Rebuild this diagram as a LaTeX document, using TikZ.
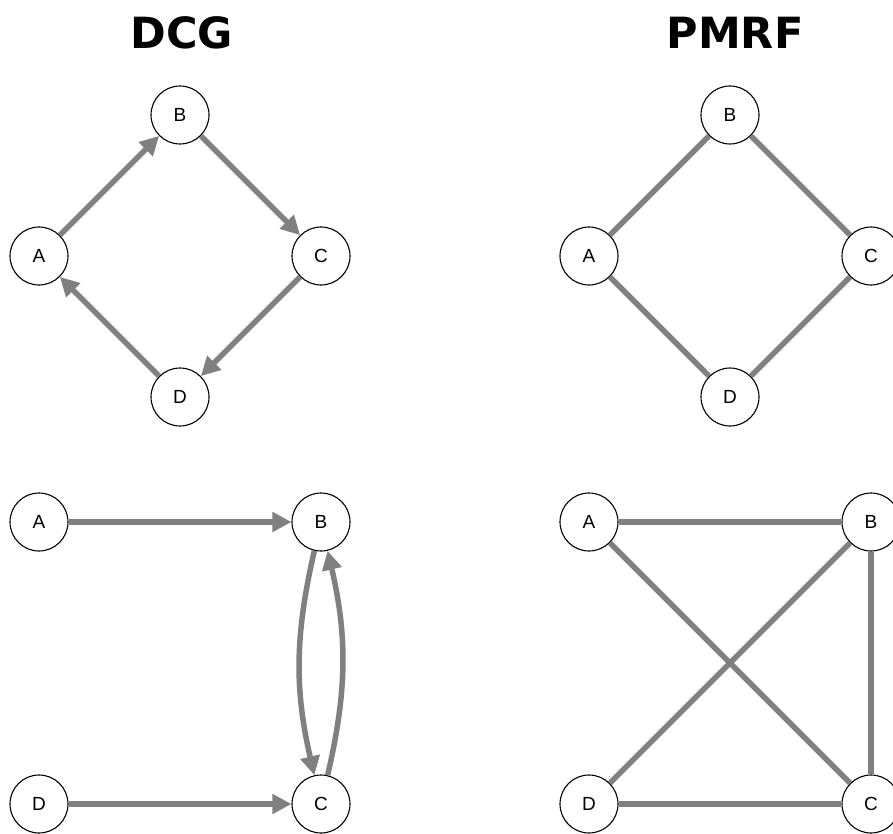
\documentclass[tikz,border=0pt]{standalone}
\usepackage{fontspec}
\setmainfont{Liberation Sans}
\newfontfamily\titlefont{DejaVu Sans}
\usetikzlibrary{arrows.meta}
\definecolor{linkgray}{RGB}{128,128,128}
\tikzset{
  vert/.style={circle, draw=black, line width=1.1pt, fill=white, minimum size=58pt, inner sep=0pt, font=\fontsize{19}{19}\selectfont},
  edge/.style={draw=linkgray, line width=5.5pt},
  arc/.style={edge, -{Triangle[length=19pt,width=19pt]}, color=linkgray},
  heading/.style={font=\titlefont\bfseries\fontsize{43}{43}\selectfont}
}
\begin{document}
\begin{tikzpicture}[x=1pt,y=1pt]
\useasboundingbox (0,0) rectangle (893,-834);

% titles
\node[heading] (t1) at (182,-33) {DCG};
\node[heading] (t2) at (735,-33) {PMRF};

% DCG, cycle
\node[vert] (a1) at (39,-256) {A};
\node[vert] (b1) at (180,-115) {B};
\node[vert] (c1) at (321,-256) {C};
\node[vert] (d1) at (180,-397) {D};
\draw[arc] (a1) -- (b1);
\draw[arc] (b1) -- (c1);
\draw[arc] (c1) -- (d1);
\draw[arc] (d1) -- (a1);

% PMRF, cycle
\node[vert] (a2) at (589,-256) {A};
\node[vert] (b2) at (730,-115) {B};
\node[vert] (c2) at (871,-256) {C};
\node[vert] (d2) at (730,-397) {D};
\draw[edge] (a2) -- (b2);
\draw[edge] (b2) -- (c2);
\draw[edge] (c2) -- (d2);
\draw[edge] (d2) -- (a2);

% DCG, two-way link
\node[vert] (a3) at (39,-522) {A};
\node[vert] (b3) at (321,-522) {B};
\node[vert] (c3) at (321,-804) {C};
\node[vert] (d3) at (39,-804) {D};
\draw[arc] (a3) -- (b3);
\draw[arc] (d3) -- (c3);
\draw[arc] (b3) to[bend right=13] (c3);
\draw[arc] (c3) to[bend right=13] (b3);

% PMRF, moralised
\node[vert] (a4) at (589,-522) {A};
\node[vert] (b4) at (871,-522) {B};
\node[vert] (c4) at (871,-804) {C};
\node[vert] (d4) at (589,-804) {D};
\draw[edge] (a4) -- (b4);
\draw[edge] (a4) -- (c4);
\draw[edge] (d4) -- (b4);
\draw[edge] (b4) -- (c4);
\draw[edge] (d4) -- (c4);
\end{tikzpicture}
\end{document}
